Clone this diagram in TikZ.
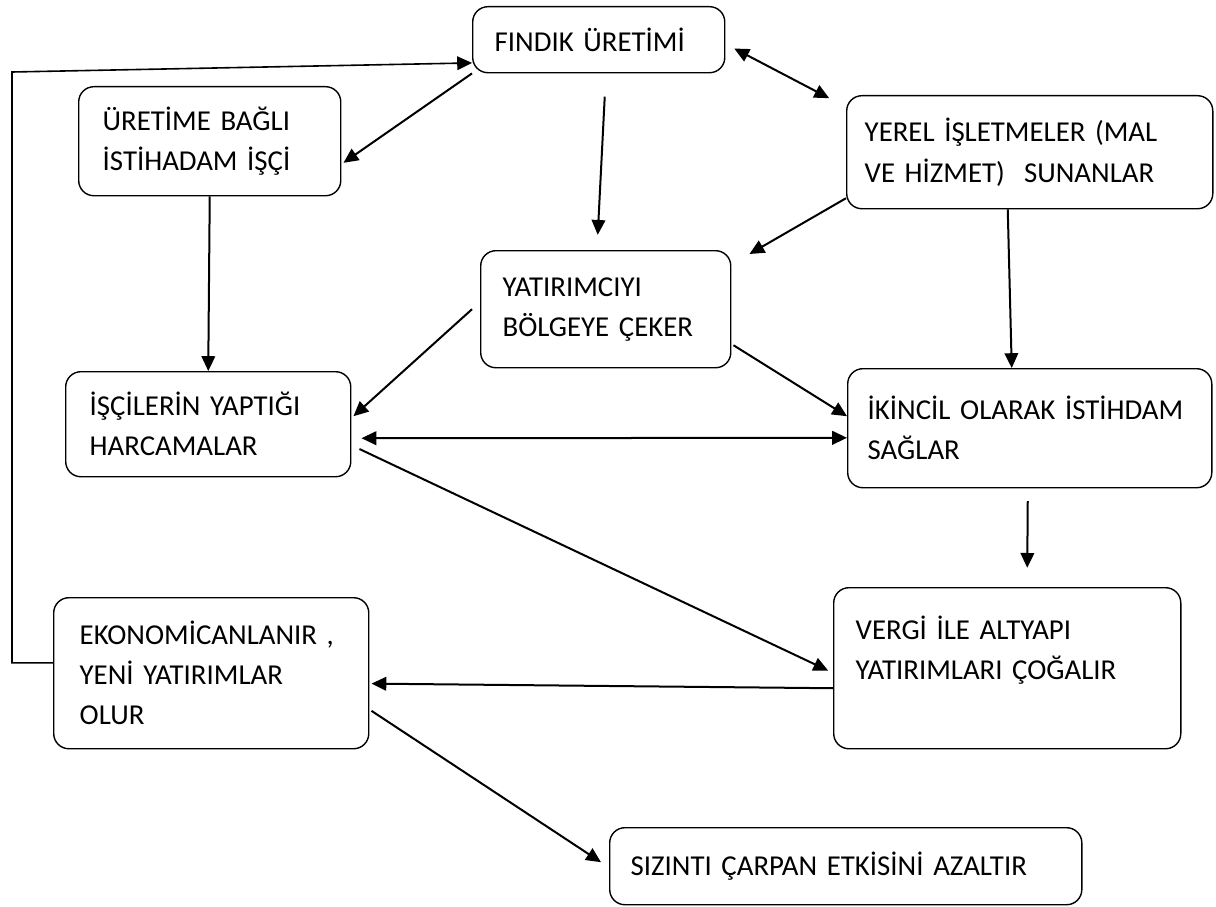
\documentclass[tikz,border=0pt]{standalone}
\usepackage{fontspec}
\setmainfont{Carlito}
\usetikzlibrary{arrows.meta}
\hyphenpenalty=10000
\exhyphenpenalty=10000

\tikzset{
	kutu/.style={draw, line width=0.35mm, rounded corners=0.38cm, anchor=north west, align=left, inner ysep=0pt, font=\fontsize{20.5}{28.5}\selectfont},
	ok/.style={line width=0.5mm, -{Triangle[length=3.7mm,width=3.4mm]}},
	ciftok/.style={line width=0.5mm, {Triangle[length=3.7mm,width=3.4mm]}-{Triangle[length=3.7mm,width=3.4mm]}},
	donus/.style={line width=0.4mm, -{Triangle[length=3.7mm,width=3.4mm]}}
}

\begin{document}
\begin{tikzpicture}[x=0.025cm, y=-0.025cm]
			%%%%% START %%%%%
			\useasboundingbox (0, 0) rectangle (1216, 907);
			
			\node[kutu, minimum width=6.3cm, minimum height=1.65cm, inner xsep=0.55cm, text width=5.2cm] (fin) at (472, 6) {FINDIK~ÜRETİMİ};
			\node[kutu, minimum width=6.55cm, minimum height=2.725cm, inner xsep=0.6cm, text width=5.35cm] (ure) at (78, 86) {ÜRETİME~BAĞLI\\İSTİHADAM~İŞÇİ};
			\node[kutu, minimum width=9.15cm, minimum height=2.825cm, inner xsep=0.45cm, text width=8.25cm] (yer) at (846, 95) {YEREL~İŞLETMELER~(MAL\\VE~HİZMET)~~SUNANLAR};
			\node[kutu, minimum width=6.25cm, minimum height=2.925cm, inner xsep=0.55cm, text width=5.15cm] (yat) at (480, 250) {YATIRIMCIYI\\BÖLGEYE~ÇEKER};
			\node[kutu, minimum width=7.125cm, minimum height=2.625cm, inner xsep=0.6cm, text width=5.925cm] (isc) at (65, 371) {İŞÇİLERİN~YAPTIĞI\\HARCAMALAR};
			\node[kutu, minimum width=9.1cm, minimum height=2.975cm, inner xsep=0.5cm, text width=8.1cm] (iki) at (847, 368) {İKİNCİL~OLARAK~İSTİHDAM\\SAĞLAR};
			\node[kutu, minimum width=7.875cm, minimum height=3.775cm, inner xsep=0.65cm, text width=6.575cm] (eko) at (53, 597) {EKONOMİCANLANIR~,\\YENİ~YATIRIMLAR\\OLUR};
			\node[kutu, minimum width=8.675cm, minimum height=4.025cm, inner xsep=0.55cm, text width=7.575cm] (ver) at (833, 587) {VERGİ~İLE~ALTYAPI\\YATIRIMLARI~ÇOĞALIR\\\mbox{}};
			\node[kutu, minimum width=11.8cm, minimum height=1.925cm, inner xsep=0.525cm, text width=10.75cm] (siz) at (609, 827) {SIZINTI~ÇARPAN~ETKİSİNİ~AZALTIR};
			
			% geri besleme
			\coordinate (kose) at (12, 72);
			\draw[donus] ([yshift=0.26cm]eko.west) -| (kose) -- ([yshift=-0.58cm]fin.west);
			
			\draw[ok] (fin.south west) -- ([xshift=0.05cm, yshift=-0.54cm]ure.east);
			\draw[ok] ([xshift=0.15cm, yshift=-0.58cm]fin.south) -- ([xshift=-0.2cm, yshift=0.38cm]yat.north);
			\draw[ciftok] ([xshift=0.22cm, yshift=-0.22cm]fin.east) -- ([xshift=-0.42cm, yshift=-0.08cm]yer.north west);
			
			\draw[ok] ([yshift=0.28cm]yer.south west) -- ([xshift=0.45cm, yshift=-0.1cm]yat.north east);
			\draw[ok] ([xshift=-0.55cm]yer.south) -- ([xshift=-0.45cm]iki.north);
			
			\draw[ok] (ure.south) -- (isc.north);
			\draw[ok] ([xshift=-0.2cm]yat.west) -- ([xshift=0.05cm, yshift=0.2cm]isc.east);
			\draw[ok] ([xshift=0.05cm, yshift=-0.9cm]yat.east) -- ([yshift=0.3cm]iki.west);
			\draw[ciftok] ([xshift=0.25cm, yshift=-0.35cm]isc.east) -- ([yshift=-0.24cm]iki.west);
			
			\draw[ok] ([xshift=0.2cm, yshift=-0.62cm]isc.east) -- ([xshift=-0.12cm, yshift=-0.06cm]ver.west);
			\draw[ok] ([xshift=-0.05cm, yshift=-0.32cm]iki.south) -- ([xshift=0.5cm, yshift=0.48cm]ver.north);
			\draw[ok] ([yshift=-0.5cm]ver.west) -- ([xshift=0.05cm, yshift=-0.26cm]eko.east);
			\draw[ok] ([xshift=0.05cm, yshift=-0.94cm]eko.east) -- ([xshift=-0.2cm, yshift=0.1cm]siz.west);
			
			%%%%% END %%%%%
\end{tikzpicture}
\end{document}
